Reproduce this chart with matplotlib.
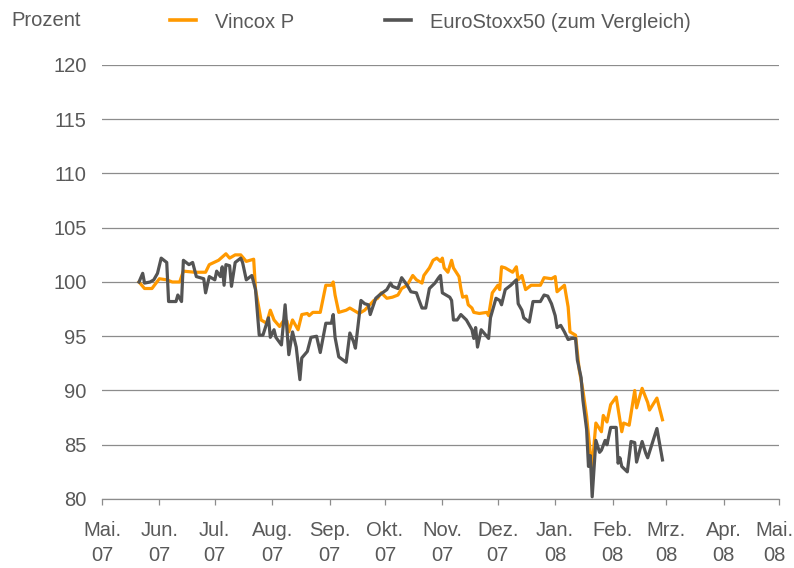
import pandas as pd
import matplotlib
matplotlib.use("Agg")
import matplotlib.pyplot as plt
from matplotlib.transforms import ScaledTranslation

plt.rcParams['font.family'] = ['Liberation Sans', 'DejaVu Sans']

# Vincox P (Prozent, Start = 100)
vincox_dates = [
    '2007-05-21', '2007-05-24', '2007-05-28', '2007-06-01', '2007-06-05', '2007-06-08',
    '2007-06-12', '2007-06-14', '2007-06-20', '2007-06-26', '2007-06-28', '2007-07-03',
    '2007-07-07', '2007-07-09', '2007-07-12', '2007-07-15', '2007-07-18', '2007-07-22',
    '2007-07-23', '2007-07-26', '2007-07-29', '2007-07-31', '2007-08-02', '2007-08-05',
    '2007-08-07', '2007-08-09', '2007-08-10', '2007-08-12', '2007-08-15', '2007-08-17',
    '2007-08-20', '2007-08-21', '2007-08-23', '2007-08-27', '2007-08-30', '2007-09-02',
    '2007-09-03', '2007-09-04', '2007-09-06', '2007-09-10', '2007-09-12', '2007-09-17',
    '2007-09-20', '2007-09-25', '2007-09-27', '2007-09-29', '2007-10-02', '2007-10-05',
    '2007-10-08', '2007-10-10', '2007-10-13', '2007-10-16', '2007-10-18', '2007-10-21',
    '2007-10-22', '2007-10-25', '2007-10-27', '2007-10-29', '2007-10-31', '2007-11-01',
    '2007-11-02', '2007-11-04', '2007-11-06', '2007-11-07', '2007-11-10', '2007-11-11',
    '2007-11-12', '2007-11-14', '2007-11-15', '2007-11-17', '2007-11-18', '2007-11-21',
    '2007-11-25', '2007-11-26', '2007-11-28', '2007-12-01', '2007-12-02', '2007-12-03',
    '2007-12-05', '2007-12-09', '2007-12-11', '2007-12-12', '2007-12-14', '2007-12-16',
    '2007-12-19', '2007-12-24', '2007-12-26', '2007-12-30', '2008-01-01', '2008-01-02',
    '2008-01-06', '2008-01-08', '2008-01-09', '2008-01-12', '2008-01-14', '2008-01-16',
    '2008-01-18', '2008-01-20', '2008-01-21', '2008-01-23', '2008-01-26', '2008-01-27',
    '2008-01-29', '2008-01-31', '2008-02-03', '2008-02-06', '2008-02-07', '2008-02-10',
    '2008-02-13', '2008-02-14', '2008-02-17', '2008-02-20', '2008-02-21', '2008-02-25',
    '2008-02-28',
]
vincox = [
    100.0, 99.4, 99.4, 100.3, 100.2, 100.0,
    100.0, 101.0, 100.9, 100.9, 101.6, 102.0,
    102.6, 102.2, 102.5, 102.5, 101.9, 102.1,
    99.3, 96.5, 96.2, 97.4, 96.5, 95.9,
    96.4, 96.4, 95.4, 96.5, 95.6, 97.0,
    97.1, 96.9, 97.2, 97.2, 99.7, 99.7,
    100.0, 98.8, 97.2, 97.4, 97.6, 97.1,
    97.4, 98.3, 98.5, 99.0, 98.5, 98.6,
    98.8, 99.4, 99.7, 100.6, 100.2, 99.9,
    100.6, 101.3, 102.0, 102.2, 101.9, 102.2,
    101.3, 100.9, 102.0, 101.3, 100.5, 99.4,
    98.6, 98.7, 97.9, 97.6, 97.2, 97.1,
    97.2, 96.9, 99.0, 99.7, 99.3, 101.4,
    101.3, 100.9, 101.4, 100.2, 100.6, 99.3,
    99.7, 99.7, 100.4, 100.3, 100.5, 99.1,
    99.7, 97.7, 95.4, 95.1, 91.9, 90.0,
    87.6, 84.2, 83.0, 87.0, 86.2, 87.7,
    87.1, 88.7, 89.4, 86.2, 87.0, 86.8,
    90.0, 88.4, 90.2, 88.9, 88.2, 89.3,
    87.3,
]

# EuroStoxx50 (Prozent, Start = 100)
stoxx_dates = [
    '2007-05-21', '2007-05-23', '2007-05-24', '2007-05-27', '2007-05-29', '2007-05-31',
    '2007-06-02', '2007-06-05', '2007-06-06', '2007-06-10', '2007-06-11', '2007-06-13',
    '2007-06-14', '2007-06-17', '2007-06-19', '2007-06-21', '2007-06-25', '2007-06-26',
    '2007-06-28', '2007-07-01', '2007-07-02', '2007-07-04', '2007-07-05', '2007-07-06',
    '2007-07-07', '2007-07-09', '2007-07-10', '2007-07-12', '2007-07-15', '2007-07-16',
    '2007-07-18', '2007-07-21', '2007-07-23', '2007-07-25', '2007-07-27', '2007-07-30',
    '2007-07-31', '2007-08-02', '2007-08-03', '2007-08-06', '2007-08-08', '2007-08-10',
    '2007-08-12', '2007-08-14', '2007-08-16', '2007-08-17', '2007-08-20', '2007-08-22',
    '2007-08-25', '2007-08-27', '2007-08-30', '2007-09-02', '2007-09-03', '2007-09-04',
    '2007-09-06', '2007-09-10', '2007-09-12', '2007-09-14', '2007-09-15', '2007-09-18',
    '2007-09-20', '2007-09-22', '2007-09-23', '2007-09-26', '2007-09-28', '2007-10-02',
    '2007-10-04', '2007-10-05', '2007-10-08', '2007-10-10', '2007-10-13', '2007-10-15',
    '2007-10-18', '2007-10-19', '2007-10-21', '2007-10-23', '2007-10-25', '2007-10-28',
    '2007-10-30', '2007-10-31', '2007-11-01', '2007-11-03', '2007-11-05', '2007-11-06',
    '2007-11-07', '2007-11-09', '2007-11-11', '2007-11-14', '2007-11-17', '2007-11-18',
    '2007-11-19', '2007-11-20', '2007-11-22', '2007-11-24', '2007-11-26', '2007-11-27',
    '2007-11-30', '2007-12-02', '2007-12-03', '2007-12-05', '2007-12-08', '2007-12-11',
    '2007-12-12', '2007-12-14', '2007-12-15', '2007-12-18', '2007-12-20', '2007-12-24',
    '2007-12-26', '2007-12-28', '2007-12-30', '2008-01-01', '2008-01-02', '2008-01-04',
    '2008-01-06', '2008-01-08', '2008-01-10', '2008-01-12', '2008-01-13', '2008-01-15',
    '2008-01-16', '2008-01-18', '2008-01-19', '2008-01-20', '2008-01-21', '2008-01-23',
    '2008-01-25', '2008-01-26', '2008-01-28', '2008-01-29', '2008-01-31', '2008-02-03',
    '2008-02-04', '2008-02-05', '2008-02-06', '2008-02-09', '2008-02-11', '2008-02-13',
    '2008-02-14', '2008-02-17', '2008-02-19', '2008-02-20', '2008-02-25', '2008-02-28',
]
stoxx = [
    100.0, 100.8, 99.9, 100.0, 100.2, 100.8,
    102.2, 101.8, 98.2, 98.2, 98.8, 98.2,
    102.0, 101.6, 101.8, 100.5, 100.3, 99.0,
    100.5, 100.2, 101.0, 100.5, 101.4, 99.7,
    101.6, 101.5, 99.6, 101.8, 102.2, 101.8,
    100.2, 100.6, 99.3, 95.1, 95.1, 96.7,
    94.9, 95.6, 94.9, 94.2, 97.9, 93.3,
    95.4, 94.0, 91.0, 93.0, 93.6, 94.9,
    95.0, 93.5, 96.2, 96.2, 97.0, 94.9,
    93.1, 92.6, 95.3, 94.5, 93.9, 98.3,
    98.0, 97.9, 97.0, 98.5, 98.8, 99.3,
    99.9, 99.6, 99.4, 100.4, 99.7, 99.1,
    99.0, 98.5, 97.6, 97.6, 99.4, 99.9,
    100.4, 100.6, 99.0, 98.8, 98.6, 98.3,
    96.5, 96.5, 97.0, 96.5, 95.6, 94.8,
    95.8, 94.0, 95.6, 95.2, 94.8, 96.7,
    98.5, 98.3, 97.9, 99.3, 99.7, 100.2,
    98.0, 97.4, 96.7, 96.3, 98.2, 98.2,
    98.8, 98.7, 98.0, 96.9, 95.8, 96.0,
    95.4, 94.7, 94.8, 94.8, 92.8, 91.2,
    89.1, 86.4, 83.0, 84.0, 80.2, 85.4,
    84.3, 84.5, 85.4, 85.0, 86.6, 86.6,
    83.3, 83.8, 83.0, 82.5, 85.3, 85.2,
    83.4, 85.3, 84.2, 83.8, 86.5, 83.6,
]

month_ticks = pd.date_range('2007-05-01', '2008-05-01', freq='MS')
month_names = ['Mai.', 'Jun.', 'Jul.', 'Aug.', 'Sep.', 'Okt.', 'Nov.', 'Dez.',
               'Jan.', 'Feb.', 'Mrz.', 'Apr.', 'Mai.']
tick_labels = [f"{m}\n{d:%y}" for m, d in zip(month_names, month_ticks)]

text_col = '#595959'
grid_col = '#8c8c8c'
fs = 14.5

fig = plt.figure(figsize=(7.94, 5.68), dpi=100)
ax = fig.add_axes([102 / 794, 1 - 499 / 568, 677 / 794, 434 / 568])

ax.plot(pd.to_datetime(vincox_dates), vincox, color='#FF9900', lw=2.3, label='Vincox P')
ax.plot(pd.to_datetime(stoxx_dates), stoxx, color='#545454', lw=2.3,
        label='EuroStoxx50 (zum Vergleich)')

ax.set_xlim(month_ticks[0], month_ticks[-1])
ax.set_ylim(80, 120)
ax.set_yticks(range(80, 121, 5))
ax.yaxis.grid(True, color=grid_col, lw=0.9)
ax.set_axisbelow(True)

ax.set_xticks(month_ticks)
ax.set_xticklabels(tick_labels, linespacing=1.4)
ax.tick_params(axis='x', direction='out', length=4, width=0.9, color=grid_col,
               pad=12, labelsize=fs, labelcolor=text_col)
ax.tick_params(axis='y', length=0, pad=11, labelsize=fs, labelcolor=text_col)

# letztes Label etwas nach links, damit der Punkt nicht abgeschnitten wird
last = ax.get_xticklabels()[-1]
last.set_transform(last.get_transform() + ScaledTranslation(-5 / 100, 0, fig.dpi_scale_trans))

for s in ['left', 'right', 'top']:
    ax.spines[s].set_visible(False)
ax.spines['bottom'].set_color(grid_col)
ax.spines['bottom'].set_linewidth(0.9)

fig.text(11 / 794, 1 - 21 / 568, 'Prozent', fontsize=fs, color=text_col, va='center')

leg = fig.legend(loc='center left', bbox_to_anchor=(170 / 794, 1 - 22 / 568), ncol=2,
                 frameon=False, fontsize=fs, handlelength=1.3, handletextpad=0.95,
                 columnspacing=4.5, borderpad=0, borderaxespad=0)
for t in leg.get_texts():
    t.set_color(text_col)
for h in leg.legend_handles:
    h.set_linewidth(2.6)

fig.savefig('out.png', dpi=100)
